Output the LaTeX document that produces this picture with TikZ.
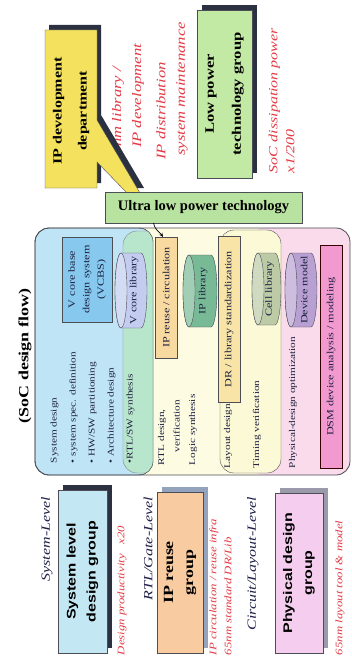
\documentclass[tikz,border=0pt]{standalone}
\usepackage{fontspec}
\setmainfont{Liberation Serif}[FakeStretch=1.28]
\newfontfamily\plainserif{Liberation Serif}
\newfontfamily\grpsans{Liberation Sans}[FakeStretch=1.28]
\usetikzlibrary{arrows.meta}
\definecolor{bluec}{HTML}{BFE4F6}
\definecolor{greenc}{HTML}{B8E6CC}
\definecolor{flowy}{HTML}{FDFBE2}
\definecolor{circc}{HTML}{FCF9D6}
\definecolor{pinkc}{HTML}{FADBEB}
\definecolor{framec}{HTML}{4D4D55}
\definecolor{vcbsc}{HTML}{86C8EE}
\definecolor{vlibc}{HTML}{C2CDF0}
\definecolor{reusec}{HTML}{F8D9A0}
\definecolor{iplibc}{HTML}{78BA96}
\definecolor{drc}{HTML}{F7E4A6}
\definecolor{celllibc}{HTML}{BCCAA6}
\definecolor{devc}{HTML}{B8A0D2}
\definecolor{dsmc}{HTML}{F29AD0}
\definecolor{ipdevc}{HTML}{F4E25E}
\definecolor{lowc}{HTML}{C2EAA5}
\definecolor{ultrac}{HTML}{B8E2A0}
\definecolor{sysgc}{HTML}{C3E7F3}
\definecolor{reusegc}{HTML}{F9CBA0}
\definecolor{phygc}{HTML}{F5CDEF}
\definecolor{redc}{HTML}{E33A45}
\definecolor{navyc}{HTML}{20204A}
\definecolor{inkc}{HTML}{1E2040}
\definecolor{shadowdark}{HTML}{2B3140}
\definecolor{reuseshadow}{HTML}{93A3BD}
\definecolor{physhadow}{HTML}{9A9AAA}
\newcommand\mycyl[7]{%
  \pgfmathsetmacro\cylA{#1+6}\pgfmathsetmacro\cylB{#3-6}%
  \pgfmathsetmacro\cylM{(#2+#4)/2}\pgfmathsetmacro\cylR{(#4-#2)/2}%
  \pgfmathsetmacro\cylX{(#1+#3)/2+3}%
  \draw[framec, fill=#5] (\cylA,#2) -- (\cylB,#2) arc[start angle=-90, end angle=90, x radius=6, y radius=\cylR] -- (\cylA,#4) arc[start angle=90, end angle=270, x radius=6, y radius=\cylR] -- cycle;
  \draw[framec, fill=#5!70!white] (\cylA,\cylM) ellipse [x radius=6, y radius=\cylR];
  \node[cyltext] (#6) at (\cylX,\cylM) {#7};}
\begin{document}
\begin{tikzpicture}[x=1pt,y=-1pt,
  every node/.style={inner sep=0pt, outer sep=0pt},
  rt/.style={rotate=90},
  redtxt/.style={rotate=90, text=redc, font=\itshape\fontsize{13}{17}\selectfont},
  redsm/.style={rotate=90, text=redc, font=\itshape\fontsize{10}{15}\selectfont},
  lvl/.style={rotate=90, text=navyc, font=\itshape\fontsize{12.5}{15}\selectfont},
  body/.style={rotate=90, text=inkc, font=\fontsize{8.8}{19}\selectfont, align=left},
  ibox/.style={rotate=90, draw=framec, line width=0.6pt, text=inkc, font=\fontsize{9.5}{14.5}\selectfont, align=center},
  cyltext/.style={rotate=90, text=inkc, font=\fontsize{9.5}{11}\selectfont},
  grp/.style={rotate=90, align=center, text=black},
]
\useasboundingbox (0,0) rectangle (351,661);
\fill[white] (0,0) rectangle (351,661);

% ---------- top: IP development ----------
\node[redtxt, anchor=east] (r1) at (118,67) {65nm library /};
\node[redtxt] (r2) at (138,96) {IP development};
\node[redtxt] (r3) at (161,111) {IP distribution};
\node[redtxt] (r4) at (182,89) {system maintenance};
\fill[shadowdark] (49,25) -- (101,25) -- (101,115) -- (144,188) -- (131,188) -- (101,157) -- (101,183) -- (49,183) -- cycle;
\draw[framec, fill=ipdevc] (45,30) -- (97,30) -- (97,120) -- (140,193) -- (127,193) -- (97,162) -- (97,188) -- (45,188) -- cycle;
\node[grp, font=\bfseries\fontsize{12.5}{25}\selectfont] (ipdev) at (71,111) {IP development\\department};

% ---------- top: low power ----------
\fill[shadowdark] (202,5) rectangle (257,173);
\node[grp, draw=framec, fill=lowc, minimum width=168, minimum height=55, font=\bfseries\fontsize{13}{27}\selectfont] (lowp) at (224.5,94) {Low power\\technology group};
\node[redtxt, anchor=west, align=left, font=\itshape\fontsize{12.5}{17}\selectfont] (socp) at (281.5,173) {SoC dissipation power\\x1/200};

% ---------- ultra low power ----------
\node[draw=framec, fill=ultrac, line width=0.8pt, minimum width=197, minimum height=31, font=\plainserif\bfseries\fontsize{14.5}{16}\selectfont] (ultra) at (203.5,207.5) {Ultra low power technology};

% ---------- SoC design flow ----------
\node[rt, font=\bfseries\fontsize{14}{16}\selectfont] (socflow) at (25,356) {(SoC design flow)};

\fill[flowy, rounded corners=14] (35,228) rectangle (350,475);
\fill[pinkc, rounded corners=14] (250,228) rectangle (350,475);
\draw[framec, fill=circc, rounded corners=14] (220,230) rectangle (281,473);
\draw[framec, fill=bluec, rounded corners=14] (35,228) rectangle (153,475);
\begin{scope}
  \clip[rounded corners=14] (35,228) rectangle (153,475);
  \fill[greenc, rounded corners=14] (123,231) rectangle (300,473);
  \draw[framec!70, rounded corners=14] (123,231) rectangle (300,473);
\end{scope}
\draw[framec, rounded corners=14] (35,228) rectangle (153,475);
\draw[framec, line width=0.8pt, rounded corners=14] (35,228) rectangle (350,475);

\node[ibox, fill=vcbsc, minimum width=85, minimum height=50] (vcbs) at (87,279.5) {V core base\\design system\\(VCBS)};
\node[ibox, fill=reusec, minimum width=121, minimum height=22] (ipreuse) at (166,297.5) {IP reuse / circulation};
\node[ibox, fill=drc, minimum width=166, minimum height=22] (dr) at (229,319) {DR / library standardization};
\node[ibox, fill=dsmc, draw=black!80!red, line width=0.9pt, minimum width=223, minimum height=22] (dsm) at (331,356.5) {DSM device analysis / modeling};

\mycyl{115}{253}{147}{328}{vlibc}{vlib}{V core library}
\mycyl{183}{255}{217}{327}{iplibc}{iplib}{IP library}
\mycyl{252}{253}{281}{325}{celllibc}{celllib}{Cell library}
\mycyl{285}{253}{317}{327}{devc}{devm}{Device model}

\node[body, anchor=west] (sysd) at (92.5,463) {System design\\• system spec. definition\\• HW/SW partitioning\\• Architecture design\\•RTL/SW synthesis};
\node[body, anchor=west, font=\fontsize{8.8}{15.5}\selectfont] (rtl) at (177.5,465) {RTL design,\\\hspace*{13pt}verification\\Logic synthesis};
\node[body, anchor=west] (layd) at (228,468) {Layout design};
\node[body, anchor=west] (timv) at (257,468) {Timing verification};
\node[body, anchor=west] (phyd) at (293,468) {Physical-design optimization};

\draw[-{Stealth[length=4pt,width=3.5pt]}, line width=0.7pt, black] ([xshift=-50pt]ultra.south) .. controls +(2,8) and +(-4,-6) .. ([xshift=-3pt]ipreuse.east);

% ---------- bottom groups ----------
\node[lvl, anchor=east] (lsys) at (47,497) {System-Level};
\node[lvl, anchor=east] (lrtl) at (148,497) {RTL/Gate-Level};
\node[lvl, anchor=east] (lcir) at (253,497) {Circuit/Layout-Level};

\fill[shadowdark] (63,485) rectangle (112,648);
\node[grp, draw=framec, fill=sysgc, minimum width=163, minimum height=49, font=\grpsans\bfseries\fontsize{12.5}{20}\selectfont] (sysg) at (82.5,571.5) {System level\\design group};
\fill[reuseshadow] (162,487) rectangle (208,648);
\node[grp, draw=framec, fill=reusegc, minimum width=161, minimum height=46, font=\bfseries\fontsize{14}{20}\selectfont] (reuseg) at (180,572.5) {IP reuse\\group};
\fill[physhadow] (280,488) rectangle (328,648);
\node[grp, draw=framec, fill=phygc, minimum width=160, minimum height=48, font=\grpsans\bfseries\fontsize{12.5}{20}\selectfont] (phyg) at (299,573) {Physical design\\group};

\node[redsm, anchor=west] (dprod) at (122,655) {Design productivity\quad x20};
\node[redsm, anchor=west, align=left] (ipcirc) at (220.5,655) {IP circulation / reuse infra\\65nm standard DR/Lib};
\node[redsm, anchor=west] (lay65) at (340,655) {65nm layout tool \& model};
\end{tikzpicture}
\end{document}
